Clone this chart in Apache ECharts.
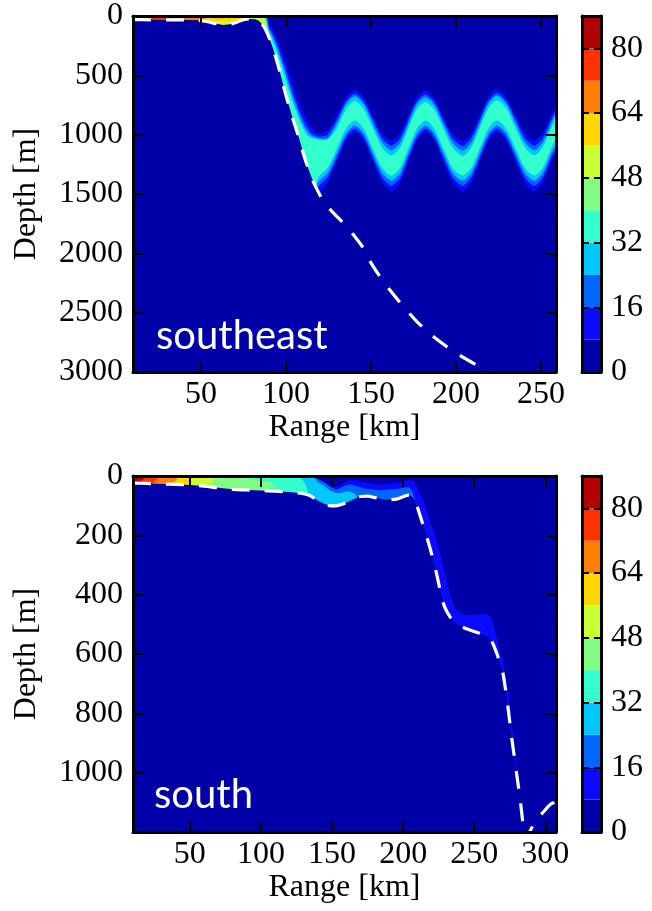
<!DOCTYPE html>
<html><head><meta charset="utf-8">
<script src="https://cdn.jsdelivr.net/npm/echarts@6/dist/echarts.min.js"></script>
<style>html,body{margin:0;padding:0;background:#fff;}#c{width:652px;height:911px;}</style>
</head><body><div id="c"></div>
<script>
// ---------- colour scale ----------
const levelEdges = [0, 8, 16, 24, 32, 40, 48, 56, 64, 72, 80, 88];
const levelColors = ['#0000a8', '#0a0aff', '#0066ff', '#00c8ff', '#33ffcc', '#80ff80', '#ccff33', '#ffd700', '#ff8000', '#ff3300', '#b30000'];
const cbarTicks = [0, 16, 32, 48, 64, 80];

// ---------- southeast panel ----------
const seRangeTicks = [50, 100, 150, 200, 250];
const seBathy = [[10,30],[20,32],[30,33],[40,33],[48,36],[54,48],[58,62],[63,75],[67,70],[71,52],[75,32],[79,25],[82,28],[84,40],[86,70],[88,115],[90,180],[92,260],[94,350],[96,450],[98,560],[100,670],[102,770],[104,865],[106,955],[108,1045],[110,1150],[112,1240],[114,1320],[116,1395],[118,1455],[120,1510],[122,1560],[125,1615],[130,1690],[135,1765],[140,1850],[145,1945],[150,2080],[155,2190],[161,2307],[168,2430],[176,2560],[184,2670],[192,2760],[200,2840],[210,2925],[219,3000],[222,3020]];
const seL1 = [[86,0],[89,0],[90,67],[92,106],[94,160],[96,228],[98,305],[100,390],[102,478],[104,571],[106,660],[108,740],[110,808],[112,865],[115,940],[119,990],[124.5,960],[130,835],[135.3,684],[140.5,621],[145.7,684],[151,835],[156.5,986],[162,1049],[167.2,986],[172,835],[177,684],[182,628],[187.2,690],[192.5,840],[198,990],[204,1052],[209,990],[214,835],[219,680],[224,615],[229.5,680],[235,835],[240.5,986],[246,1049],[251,986],[256,835],[258.8,765],
  [258.8,1143],[256,1228],[251,1404],[246,1477],[240.5,1404],[235,1228],[229.5,1052],[224,979],[219,1052],[214,1228],[209,1404],[204,1477],[198,1404],[192.5,1228],[187.2,1052],[182,979],[177,1052],[172,1228],[167.2,1404],[162,1477],[156.5,1404],[151,1228],[145.7,1052],[140.5,979],[135.3,1052],[130,1228],[124.5,1404],[119,1520],[116,1560],[110,1350],[100,850],[92,400],[88,250],[84,150]];
const seL2 = [[86,0],[88.5,0],[90,97],[92,148],[94,212],[96,287],[98,370],[100,461],[102,555],[104,648],[106,730],[108,808],[110,874],[112,928],[115,990],[119,1015],[124.5,1000],[130,873],[135.3,719],[140.5,655],[145.7,719],[151,873],[156.5,1028],[162,1092],[167.2,1028],[172,873],[177,719],[182,662],[187.2,725],[192.5,878],[198,1030],[204,1095],[209,1028],[214,873],[219,715],[224,648],[229.5,715],[235,873],[240.5,1028],[246,1092],[251,1028],[256,873],[258.8,800],
  [258.8,1108],[256,1190],[251,1360],[246,1430],[240.5,1360],[235,1190],[229.5,1021],[224,951],[219,1021],[214,1190],[209,1360],[204,1430],[198,1360],[192.5,1190],[187.2,1021],[182,951],[177,1021],[172,1190],[167.2,1360],[162,1430],[156.5,1360],[151,1190],[145.7,1021],[140.5,951],[135.3,1021],[130,1190],[124.5,1360],[119,1440],[116,1540],[110,1330],[100,830],[92,380],[88,230],[84,130]];
const seL3 = [[85,0],[88,0],[90,115],[92,174],[94,244],[96,323],[98,410],[100,505],[102,598],[104,690],[106,770],[108,846],[110,910],[112,964],[115,1010],[119,1030],[124.5,1030],[130,905],[135.3,744],[140.5,677],[145.7,744],[151,905],[156.5,1067],[162,1134],[167.2,1067],[172,905],[177,744],[182,684],[187.2,750],[192.5,910],[198,1070],[204,1137],[209,1067],[214,905],[219,740],[224,670],[229.5,740],[235,905],[240.5,1067],[246,1134],[251,1067],[256,905],[258.8,827],
  [258.8,1075],[256,1155],[251,1320],[246,1387],[240.5,1320],[235,1155],[229.5,990],[224,923],[219,990],[214,1155],[209,1320],[204,1387],[198,1320],[192.5,1155],[187.2,990],[182,923],[177,990],[172,1155],[167.2,1320],[162,1387],[156.5,1320],[151,1155],[145.7,990],[140.5,923],[135.3,990],[130,1155],[124.5,1320],[119,1400],[116,1520],[110,1310],[100,810],[92,360],[88,210],[84,110]];
const seL4 = [[84,0],[87.5,0],[90,141],[92,204],[94,278],[96,360],[98,450],[100,549],[102,642],[104,730],[106,808],[108,883],[110,946],[112,1000],[115,1030],[119,1045],[124.5,1040],[130,946],[135.3,785],[140.5,717],[145.7,785],[151,946],[156.5,1108],[162,1176],[167.2,1108],[172,946],[177,785],[182,724],[187.2,790],[192.5,950],[198,1110],[204,1179],[209,1108],[214,946],[219,780],[224,710],[229.5,780],[235,946],[240.5,1108],[246,1176],[251,1108],[256,946],[258.8,868],
  [258.8,1032],[256,1112],[251,1278],[246,1345],[240.5,1278],[235,1112],[229.5,947],[224,880],[219,947],[214,1112],[209,1278],[204,1345],[198,1278],[192.5,1112],[187.2,947],[182,880],[177,947],[172,1112],[167.2,1278],[162,1345],[156.5,1278],[151,1112],[145.7,947],[140.5,880],[135.3,947],[130,1112],[124.5,1278],[119,1360],[116,1500],[110,1290],[100,790],[92,340],[88,190],[84,90]];
const seL5 = [[83,0],[87,0],[88.5,90],[90,150],[91.5,210],[91,300],[86,200],[83,150]];
const seL6 = [[10,0],[86,0],[88,70],[89,130],[87,160],[10,160]];
const seL7 = [[10,0],[77,0],[74,20],[71,45],[56,45],[50,100],[10,100]];
const seL8 = [[10,0],[67,0],[63,18],[52,22],[48,100],[10,100]];
const seL9 = [[10,0],[33,0],[31,100],[10,100]];
const seL10 = [[10,0],[20,0],[18,14],[10,14]];

// ---------- south panel ----------
const sRangeTicks = [50, 100, 150, 200, 250, 300];
const sBathy = [[10,24],[20,25],[30,27],[40,28],[50,30],[60,34],[70,40],[80,45],[90,47],[100,49],[110,51],[120,54],[128,58],[134,65],[139,80],[144,93],[148,100],[152,101],[156,97],[160,90],[165,78],[170,69],[175,68],[180,73],[186,78],[191,80],[196,77],[200,70],[203,65],[206,68],[208,80],[210,105],[212,135],[214,165],[216,195],[218,228],[220,262],[222,300],[224,340],[226,385],[228,425],[230,450],[233,475],[236,492],[240,505],[245,516],[250,524],[255,532],[259,540],[262,555],[264,575],[266,600],[268,630],[270,660],[272,720],[274,790],[276,870],[278,940],[280,1010],[282,1080],[283.5,1140],[285,1200],[286.5,1225],[288,1210],[290,1190],[293,1165],[296,1147],[300,1125],[304,1105],[308,1098]];
const sL1 = [[10,0],[132,0],[137,5],[142,16],[147,30],[151,38],[155,33],[159,22],[163,15],[168,15],[174,22],[180,27],[186,29],[192,25],[198,21],[203,15],[206,14],[208,22],[210,40],[212,62],[214,80],[216,105],[218,135],[220,165],[222,195],[224,228],[226,262],[228,300],[230,340],[232,380],[234,415],[236,440],[238,455],[242,465],[247,470],[252,467],[256,464],[259,466],[262,480],[264,510],[266,550],[268,590],[270,625],[272,670],[274,740],[276,820],[278,900],[279.5,960],[280,1100],[262,700],[240,600],[225,450],[212,250],[206,200],[150,200],[10,200]];
const sL2 = [[10,0],[135,0],[139,8],[144,20],[149,36],[153,46],[157,38],[161,30],[166,32],[171,40],[177,45],[183,48],[189,46],[195,44],[200,40],[204,38],[206,48],[208,75],[209,150],[150,200],[10,200]];
const sL3 = [[10,0],[136,0],[140,20],[145,35],[150,52],[155,58],[160,52],[164,55],[167,66],[168,100],[150,200],[10,200]];
const sL4 = [[10,0],[125,0],[129,12],[132,35],[134,80],[134,200],[10,200]];
const sL5 = [[10,0],[84,0],[95,12],[106,22],[112,36],[104,44],[95,200],[10,200]];
const sL6 = [[10,0],[64,0],[67,14],[64,30],[60,200],[10,200]];
const sL7 = [[10,0],[49,0],[51,12],[48,28],[46,200],[10,200]];
const sL8 = [[10,0],[39,0],[41,12],[37,28],[35,200],[10,200]];
const sL9 = [[10,0],[25,0],[27,10],[24,25],[22,200],[10,200]];
const sL10 = [[10,0],[16,0],[18,8],[15,18],[10,18]];

const sePlume = [[1, seL1], [2, seL2], [3, seL3], [4, seL4], [5, seL5], [6, seL6], [7, seL7], [8, seL8], [9, seL9], [10, seL10]];
const sPlume = [[1, sL1], [2, sL2], [3, sL3], [4, sL4], [5, sL5], [6, sL6], [7, sL7], [8, sL8], [9, sL9], [10, sL10]];

// ---------- helpers ----------
const SERIF = 'Liberation Serif';
const FS = 32;
function clampPts(pts, api, cs) {
  return pts.map(p => {
    const c = api.coord(p);
    return [Math.min(Math.max(c[0], cs.x), cs.x + cs.width), Math.min(Math.max(c[1], cs.y), cs.y + cs.height)];
  });
}
function plumeSeries(axisIdx, polys) {
  return {
    type: 'custom', xAxisIndex: axisIdx * 2, yAxisIndex: axisIdx * 2, clip: true, z: 2, silent: true,
    data: polys.map((p, i) => [i, 0]),
    encode: { x: -1, y: -1 },
    renderItem(params, api) {
      const cs = params.coordSys;
      const item = polys[params.dataIndex];
      return { type: 'polygon', shape: { points: clampPts(item[1], api, cs), smooth: 0.25, smoothConstraint: [[cs.x, cs.y], [cs.x + cs.width, cs.y + cs.height]] }, style: { fill: levelColors[item[0]] } };
    }
  };
}
function maskSeries(axisIdx, bathy, deep) {
  return {
    type: 'custom', xAxisIndex: axisIdx * 2, yAxisIndex: axisIdx * 2, clip: true, z: 3, silent: true,
    data: [[0, 0]], encode: { x: -1, y: -1 },
    renderItem(params, api) {
      const cs = params.coordSys;
      const pts = bathy.concat([[bathy[bathy.length - 1][0], deep], [bathy[0][0], deep]]);
      return { type: 'polygon', shape: { points: clampPts(pts, api, cs) }, style: { fill: levelColors[0] } };
    }
  };
}
function bathyLine(axisIdx, bathy) {
  return {
    type: 'line', xAxisIndex: axisIdx * 2, yAxisIndex: axisIdx * 2, data: bathy, showSymbol: false, smooth: 0.3, z: 4, silent: true,
    lineStyle: { color: '#ffffff', width: 3.2, type: [18, 15] }
  };
}
function cbarSeries(axisIdx) {
  return {
    type: 'custom', xAxisIndex: 4 + axisIdx, yAxisIndex: 4 + axisIdx * 2, z: 2, silent: true,
    data: levelColors.map((c, i) => [0.5, (levelEdges[i] + levelEdges[i + 1]) / 2]),
    renderItem(params, api) {
      const i = params.dataIndex;
      const a = api.coord([0, levelEdges[i]]);
      const b = api.coord([1, levelEdges[i + 1]]);
      return { type: 'rect', shape: { x: a[0], y: b[1], width: b[0] - a[0], height: a[1] - b[1] }, style: { fill: levelColors[i] } };
    }
  };
}
const axLine = { show: true, onZero: false, lineStyle: { color: '#000', width: 3 } };
const lbl = { fontFamily: SERIF, fontSize: FS, color: '#000', formatter: v => String(v) };
const nameStyle = { fontFamily: SERIF, fontSize: FS, color: '#000' };
function xAx(grid, max, ticks, pos, showLbl, name) {
  return {
    type: 'value', gridIndex: grid, min: 10, max: max, position: pos, z: 10,
    axisLine: axLine, splitLine: { show: false },
    axisTick: { show: true, inside: true, length: 11, lineStyle: { color: '#000', width: 2 }, customValues: ticks },
    axisLabel: Object.assign({ show: showLbl, margin: 7, customValues: ticks }, lbl),
    name: name || '', nameLocation: 'middle', nameGap: 40, nameTextStyle: nameStyle
  };
}
function yAx(grid, max, interval, pos, showLbl, showMax, name) {
  return {
    type: 'value', gridIndex: grid, min: 0, max: max, interval: interval, inverse: true, position: pos, z: 10,
    axisLine: axLine, splitLine: { show: false },
    axisTick: { show: true, inside: true, length: 11, lineStyle: { color: '#000', width: 2 } },
    axisLabel: Object.assign({ show: showLbl, margin: 10, showMinLabel: true, showMaxLabel: showMax }, lbl),
    name: name || '', nameLocation: 'middle', nameGap: 90, nameRotate: 90, nameTextStyle: nameStyle
  };
}
function cbX(grid, pos) {
  return { type: 'value', gridIndex: grid, min: 0, max: 1, position: pos, z: 10, axisLine: axLine, axisTick: { show: false }, axisLabel: { show: false }, splitLine: { show: false } };
}
function cbY(grid, pos, showLbl) {
  return {
    type: 'value', gridIndex: grid, min: 0, max: 88, position: pos, z: 10, axisLine: axLine, splitLine: { show: false },
    axisTick: { show: true, inside: true, length: 7, lineStyle: { color: '#000', width: 2 }, customValues: cbarTicks },
    axisLabel: Object.assign({ show: showLbl, margin: 10, customValues: cbarTicks }, lbl)
  };
}

const chart = echarts.init(document.getElementById('c'), null, { renderer: 'canvas' });
chart.setOption({
  animation: false,
  backgroundColor: '#ffffff',
  grid: [
    { left: 133, top: 15, width: 423, height: 357, show: true, backgroundColor: levelColors[0], borderWidth: 0 },
    { left: 133, top: 476, width: 423, height: 356, show: true, backgroundColor: levelColors[0], borderWidth: 0 },
    { left: 582, top: 16, width: 19, height: 356 },
    { left: 582, top: 476, width: 19, height: 356 }
  ],
  xAxis: [
    xAx(0, 258.8, seRangeTicks, 'bottom', true, 'Range [km]'),
    xAx(0, 258.8, seRangeTicks, 'top', false),
    xAx(1, 307.5, sRangeTicks, 'bottom', true, 'Range [km]'),
    xAx(1, 307.5, sRangeTicks, 'top', false),
    cbX(2, 'bottom'), cbX(3, 'bottom'), cbX(2, 'top'), cbX(3, 'top')
  ],
  yAxis: [
    yAx(0, 3000, 500, 'left', true, true, 'Depth [m]'),
    yAx(0, 3000, 500, 'right', false, true),
    yAx(1, 1200, 200, 'left', true, false, 'Depth [m]'),
    yAx(1, 1200, 200, 'right', false, false),
    cbY(2, 'right', true), cbY(2, 'left', false),
    cbY(3, 'right', true), cbY(3, 'left', false)
  ],
  series: [
    plumeSeries(0, sePlume), maskSeries(0, seBathy, 9000), bathyLine(0, seBathy),
    plumeSeries(1, sPlume), maskSeries(1, sBathy, 9000), bathyLine(1, sBathy),
    cbarSeries(0), cbarSeries(1)
  ],
  graphic: [
    { type: 'text', left: 156, top: 316, z: 100, style: { text: 'southeast', fill: '#fff', font: '40px Lato' } },
    { type: 'text', left: 154, top: 775, z: 100, style: { text: 'south', fill: '#fff', font: '40px Lato' } }
  ]
});
</script></body></html>
